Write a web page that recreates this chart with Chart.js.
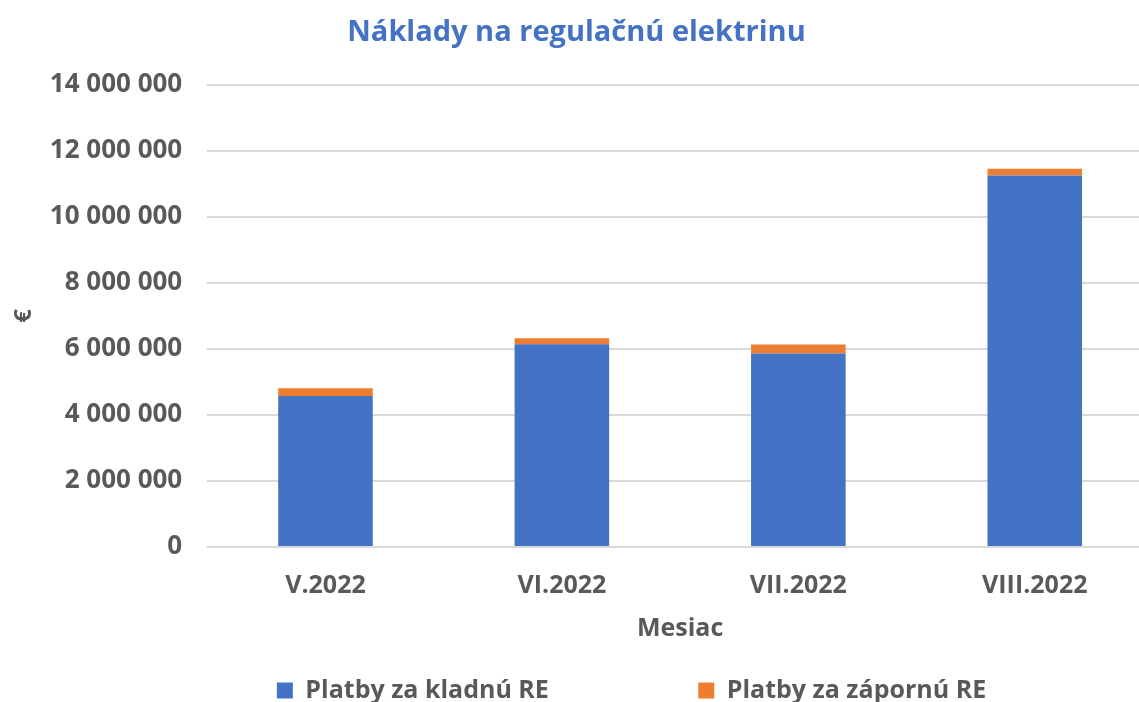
<!DOCTYPE html>
<html>
<head>
<meta charset="utf-8">
<script src="https://cdn.jsdelivr.net/npm/chart.js@4.4.0/dist/chart.umd.min.js"></script>
<style>
  html, body { margin: 0; padding: 0; background: #fff; overflow: hidden; }
  /* graf v originali presahuje pravy okraj obrazka */
  #wrap { width: 1153px; height: 702px; }
</style>
</head>
<body>
<div id="wrap"><canvas id="graf"></canvas></div>
<script>
const mesiace = ['V.2022', 'VI.2022', 'VII.2022', 'VIII.2022'];
const kladna = [4570000, 6140000, 5860000, 11250000];
const zaporna = [240000, 180000, 270000, 210000];
const nazvySerii = ['Platby za kladnú RE', 'Platby za zápornú RE'];

const sedy = '#595959';
const pismo = "'Open Sans', sans-serif";

function formatCislo(v) {
    return String(Math.round(v)).replace(/\B(?=(\d{3})+(?!\d))/g, ' ');
}

// legenda v originali nie je presne centrovana, posunieme ju
const posunLegendy = {
    id: 'posunLegendy',
    afterLayout(chart) {
        const lg = chart.legend;
        lg.left += 55; lg.right += 55;
        lg.top += 11; lg.bottom += 11;
    }
};

const ctx = document.getElementById('graf').getContext('2d');
new Chart(ctx, {
    type: 'bar',
    data: {
        labels: mesiace,
        datasets: [
            { label: nazvySerii[0], data: kladna, backgroundColor: '#4472C4', barPercentage: 0.40, categoryPercentage: 1 },
            { label: nazvySerii[1], data: zaporna, backgroundColor: '#ED7D31', barPercentage: 0.40, categoryPercentage: 1 }
        ]
    },
    options: {
        responsive: true,
        maintainAspectRatio: false,
        animation: false,
        layout: { padding: { left: 0, right: 0, top: 4, bottom: 0 } },
        plugins: {
            title: {
                display: true,
                text: 'Náklady na regulačnú elektrinu',
                color: '#4472C4',
                font: { family: pismo, size: 29, weight: 'bold' },
                padding: { top: 11, bottom: 35 }
            },
            legend: {
                position: 'bottom',
                labels: {
                    color: sedy,
                    font: { family: pismo, size: 25, weight: 'bold' },
                    boxWidth: 16, boxHeight: 16,
                    padding: 0,
                    generateLabels(chart) {
                        const items = Chart.defaults.plugins.legend.labels.generateLabels(chart);
                        // medzera medzi polozkami ako v originali
                        items[0].text = items[0].text + ' '.repeat(23);
                        return items;
                    }
                }
            },
            tooltip: { enabled: false }
        },
        scales: {
            x: {
                stacked: true,
                grid: { display: false, drawTicks: false },
                border: { color: '#d9d9d9' },
                ticks: { color: sedy, font: { family: pismo, size: 25, weight: 'bold' }, padding: 24 },
                title: { display: true, text: 'Mesiac', color: sedy, font: { family: pismo, size: 25, weight: 'bold' }, padding: { top: -11, bottom: 23 } }
            },
            y: {
                stacked: true,
                min: 0, max: 14000000,
                grid: { color: '#d9d9d9', lineWidth: 2, drawTicks: false },
                border: { display: false },
                ticks: { stepSize: 2000000, color: sedy, font: { family: pismo, size: 26, weight: 'bold' }, padding: 25, callback: v => formatCislo(v) },
                title: { display: true, text: '€', color: sedy, font: { family: pismo, size: 24, weight: 'bold' }, padding: { top: 10, bottom: -14 } }
            }
        }
    },
    plugins: [posunLegendy]
});
</script>
</body>
</html>
